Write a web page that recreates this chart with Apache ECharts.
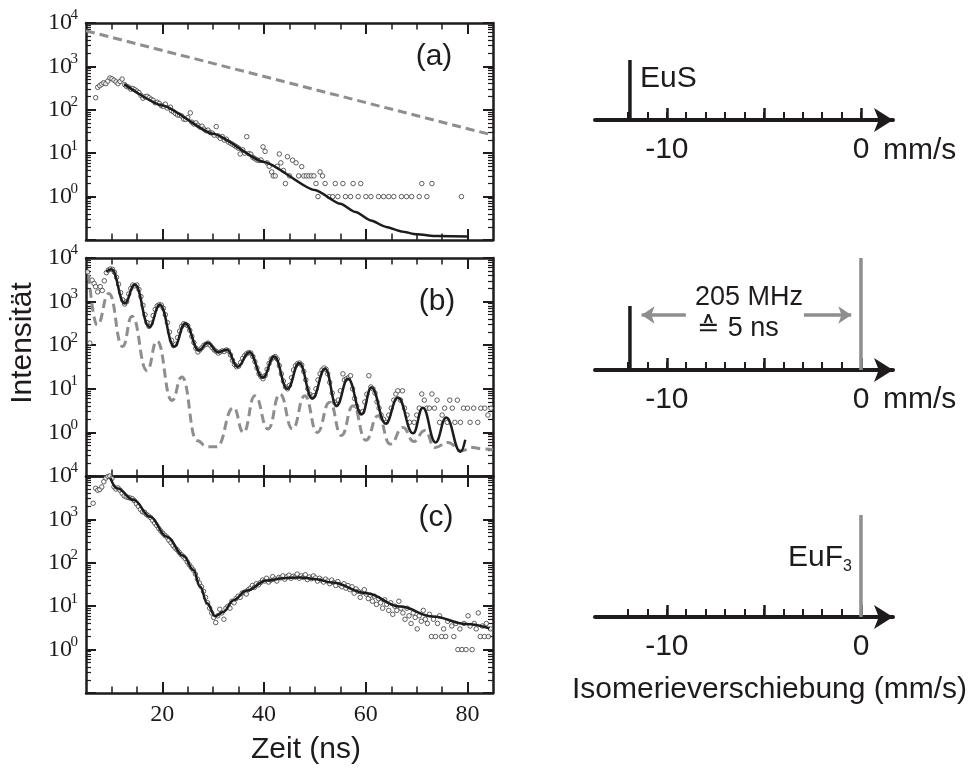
<!DOCTYPE html>
<html><head><meta charset="utf-8">
<script src="https://cdn.jsdelivr.net/npm/echarts@6/dist/echarts.min.js"></script>
<style>html,body{margin:0;padding:0;background:#fff}#c{width:978px;height:769px}</style>
</head><body><div id="c"></div><script>
// ---------------- data ----------------
const X_MIN = 5, X_MAX = 85;
const xMajorTicks = [20, 40, 60, 80];
const xMinorTicks = [10, 15, 25, 30, 35, 45, 50, 55, 65, 70, 75];
const yDecadeExp = [-1, 0, 1, 2, 3, 4];
const yLabelExp = [0, 1, 2, 3, 4];
const yMinorMult = [2, 3, 4, 5, 6, 7, 8, 9];

// panel (a)
const aScatter = [[6.9,190],[7.3,330],[7.7,360],[8.1,390],[8.5,420],[8.9,400],[9.3,460],[9.7,540],[10.1,520],[10.5,480],[10.9,440],[11.3,400],[11.7,450],[12.1,510],
[12.6,380],[13.0,345],[13.4,330],[13.8,300],[14.2,310],[14.6,290],[15.0,270],[15.4,250],[15.8,215],[16.2,185],[16.6,200],[17.0,205],[17.4,190],[17.8,175],[18.2,165],[18.6,145],[19.0,150],[19.4,140],[19.8,125],[20.2,120],[20.6,135],[21.0,110],[21.6,115],[21.8,95],[22.2,90],[22.6,82],[23.0,76],[23.4,75],[23.8,72],[24.2,61],[24.6,60],[25.0,66],[25.5,85],[25.8,52],[26.2,47],[26.6,50],[27.0,44],[27.4,40],[27.8,42],[28.2,36],[28.6,33],[29.0,34],[29.4,30],[29.8,29],[30.2,26],[30.6,41],[31.0,25],[31.4,22],[31.8,24],[32.2,20],[32.6,21],[33.0,18],[33.4,17],[33.8,16],[34.2,15],[34.6,14],[35.0,13],[35.3,9.6],[35.8,12],[36.2,10],[36.6,24],[37.0,9.8],[37.4,9.5],[37.8,8],[38.2,7.5],[38.6,7],[39.0,6.8],[39.4,7],[39.8,14],[40.2,11],[40.6,6],[41.0,5],[41.5,3.7],[41.8,3],[42.2,3],[42.6,5],[43.0,9.6],[43.3,6],[43.8,4],[44.2,2],[44.6,8.3],[45.0,3],[45.6,6.9],[46.3,6],[46.8,3],[47.4,4.9],[47.8,3],[48.3,3],[48.8,3],[49.3,3],[49.8,3],[50.2,2],[50.6,1],[51.0,3.7],[51.5,3],[52.0,2],[52.8,1],[53.5,1],[54.0,2],[54.5,1],[55.5,2],[56.0,1],[57.0,1],[57.5,2],[58.5,1],[59.0,2],[60.0,1],[61.0,1],[62.5,1],[63.5,1],[64.5,1],[65.5,1],[67.0,1],[68.0,1],[69.0,1],[70.5,1],[71.0,2],[72.0,1],[73.0,2],[78.8,1]];
const aFit = [[12.5,390],[20,126],[30,28],[40,6.3],[50,1.41],[55,0.68],[58,0.44],[61,0.28],[64,0.2],[67,0.158],[70,0.135],[74,0.123],[80,0.12]];
const aReference = [[5,6600],[85,26]];

// panel (b)
const bScatter = [[5.3,4800],[5.75,112],[6.2,3100],[6.6,2600],[6.9,2200],[7.3,1670],[7.8,2200],[8.2,1800],[8.6,3000],[9.0,4600],[9.4,5300],[9.8,5600],[10.2,5500],[10.6,4700],[11.0,3600],[11.4,2500],[11.8,1600],[12.2,1100],[12.6,880],[13.0,1000],[13.4,1500],[13.8,2000],[14.2,2400],[14.6,2300],[15.0,2400],[15.4,1900],[15.8,1300],[16.2,820],[16.6,500],[17.0,330],[17.4,270],[17.8,320],[18.2,480],[18.6,660],[19.0,800],[19.4,850],[19.8,830],[20.2,700],[20.6,500],[21.0,330],[21.4,200],[21.8,130],[22.2,98],[22.6,105],[23.0,150],[23.4,210],[23.8,270],[24.2,310],[24.6,300],[25.0,280],[25.4,220],[25.8,160],[26.2,115],[26.6,85],[27.0,70],[27.4,78],[27.8,88],[28.2,100],[28.6,105],[29.0,112],[29.4,100],[29.8,88],[30.2,78],[30.6,72],[31.0,66],[31.4,70],[31.8,74],[32.2,72],[32.6,78],[33.0,74],[33.4,60],[33.8,45],[34.2,36],[34.6,32],[35.0,33],[35.4,40],[35.8,50],[36.2,58],[36.6,64],[37.0,68],[37.4,66],[37.8,55],[38.2,42],[38.6,30],[39.0,22],[39.4,19],[39.8,17],[40.2,20],[40.6,28],[41.0,38],[41.4,48],[41.8,52],[42.2,55],[42.6,48],[43.0,34],[43.4,22],[43.8,15],[44.2,11],[44.6,10],[45.0,12],[45.4,18],[45.8,27],[46.2,34],[46.6,38],[47.0,39],[47.4,35],[47.8,25],[48.2,16],[48.6,10],[49.0,7.5],[49.4,6.5],[49.8,7],[50.2,10],[50.6,16],[51.0,22],[51.4,27],[51.8,30],[52.2,28],[52.5,22],[52.9,14],[53.4,8],[53.8,5],[54.2,4.3],[54.6,5.5],[55.0,9],[55.5,22],[55.8,16],[56.2,17],[56.6,18],[57.0,20],[57.4,10],[57.8,6],[58.2,4],[58.6,3],[59.0,2.8],[59.4,3],[59.8,5],[60.2,7.5],[60.6,20],[61.0,11],[61.4,10],[61.8,8],[62.2,5],[62.6,3.6],[63.0,2.5],[63.5,2],[64.0,1.7],[64.5,2.5],[65.0,3.6],[65.5,5.5],[65.9,7.6],[66.3,9],[66.8,5.5],[67.2,9],[67.6,3.6],[68.1,2.5],[68.6,1.7],[69.5,1.7],[70.0,2.5],[70.5,3.6],[71.0,7.6],[71.5,5.5],[72.0,3.6],[72.5,3.6],[73.0,7.6],[73.5,3.6],[74.0,5.5],[74.5,1.7],[75.0,2.5],[75.5,3.6],[76.0,1.7],[76.5,5.5],[77.0,3.6],[77.5,1.7],[78.0,5.5],[78.6,1.7],[79.2,3.6],[80.0,3.6],[80.5,1.7],[81.2,3.6],[82.0,1.7],[82.6,3.6],[83.4,3.6],[84.0,2.5],[84.6,3.6]];
const bFit = [[9.0,4800],[10.0,5500],[12.6,910],[14.6,2460],[17.45,263],[19.5,850],[22.35,93],[24.5,315],[27.2,76],[28.9,114],[31.0,69],[32.7,79],[34.8,32],[37.1,69],[39.75,18],[42.0,55],[44.6,10],[46.9,39],[49.5,6],[52.0,29],[54.25,4.1],[56.5,17],[59.2,2.6],[61.1,10.7],[63.9,1.6],[66.3,6.3],[69.3,0.95],[71.2,3.7],[73.7,0.59],[75.8,2.2],[78.6,0.36],[79.55,0.68]];
const bSimulation = [[5.55,4100],[7.2,290],[9.5,1540],[12.2,93],[14.05,460],[17.0,26],[18.95,124],[21.9,5.4],[23.85,18.6],[26.8,0.65],[28.8,0.47],[30.7,0.47],[34.0,3.7],[35.95,1.0],[38.2,6.9],[40.8,1.2],[43.1,7.6],[45.6,1.2],[48.0,6.9],[50.45,1.0],[52.9,4.9],[55.2,0.85],[57.5,4.1],[60.0,0.66],[62.4,2.4],[64.8,0.54],[67.3,1.3],[69.4,0.62],[71.6,1.1],[73.6,0.45],[76.1,0.59],[78.8,0.38],[81.0,0.45],[83.0,0.42],[85.0,0.4]];

// panel (c)
const cScatter = [[6.4,2350],[6.9,5200],[7.3,4700],[7.7,4900],[8.1,5600],[8.5,7400],[8.9,9000],[9.3,9800],[9.7,10000],[10.1,8800],[10.5,5600],[10.9,5000],[11.3,5300],[11.7,4700],[12.1,4000],[12.5,3500],[12.9,3300],[13.3,3200],[13.7,3100],[14.1,3000],[14.5,2700],[14.9,2300],[15.3,2000],[15.7,1700],[16.1,1500],[16.5,1450],[16.9,1300],[17.3,1200],[17.7,1100],[18.1,950],[18.5,820],[18.9,720],[19.3,620],[19.7,540],[20.1,480],[20.5,430],[20.9,390],[21.3,330],[21.7,290],[22.1,250],[22.5,220],[22.9,200],[23.3,175],[23.7,155],[24.1,140],[24.5,125],[24.9,105],[25.3,90],[25.7,78],[26.1,68],[26.5,55],[26.9,42],[27.3,34],[27.7,28],[28.1,22],[28.5,16],[28.9,12],[29.3,9],[29.7,7],[30.1,5.5],[30.5,4.2],[30.9,6],[31.3,8.5],[31.7,7],[32.1,5],[32.5,9],[32.9,10],[33.3,9],[33.7,13],[34.1,12],[34.5,15],[34.9,17],[35.3,16],[35.7,20],[36.1,21],[36.5,19],[36.9,24],[37.3,26],[37.7,30],[38.1,27],[38.5,33],[38.9,31],[39.3,35],[39.7,40],[40.1,38],[40.5,44],[40.9,36],[41.3,40],[41.7,48],[42.1,42],[42.5,38],[42.9,46],[43.3,45],[43.7,50],[44.1,42],[44.5,48],[44.9,52],[45.3,44],[45.7,49],[46.1,47],[46.5,55],[46.9,44],[47.3,50],[47.7,46],[48.1,53],[48.5,41],[48.9,47],[49.3,43],[49.7,50],[50.1,45],[50.5,38],[50.9,44],[51.3,40],[51.7,36],[52.1,42],[52.5,38],[52.9,33],[53.3,40],[53.7,35],[54.1,30],[54.5,37],[54.9,31],[55.3,28],[55.7,33],[56.1,26],[56.5,30],[56.9,24],[57.3,28],[57.7,20],[58.1,25],[58.5,22],[58.9,16],[59.3,21],[59.7,24],[60.1,19],[60.5,15],[60.9,18],[61.3,13],[61.7,17],[62.1,11],[62.5,15],[62.9,12],[63.3,9],[63.7,14],[64.1,11],[64.5,8],[64.9,12],[65.3,6.5],[65.7,10],[66.1,8],[66.5,13],[66.9,9],[67.3,7],[67.7,5],[68.1,9],[68.5,6],[68.9,4],[69.3,7],[69.7,5.5],[70.1,3],[70.5,6],[70.9,4.5],[71.3,8],[71.7,5],[72.1,4],[72.5,6.5],[72.9,2],[73.3,5],[73.7,2],[74.1,4],[74.5,6],[74.9,2],[75.3,3],[75.7,2],[76.1,4.5],[76.9,3.5],[77.3,2],[77.7,4],[78.1,1],[78.5,3],[78.9,1],[79.3,4],[79.7,1],[80.1,6],[80.5,3.5],[80.9,1],[81.3,4],[81.7,3],[82.1,7],[82.5,2],[82.9,3.5],[83.3,2],[83.7,4],[84.1,2],[84.5,3]];
const cFit = [[9.8,9000],[11.1,5200],[14.4,2800],[17.6,1150],[20.9,400],[24.2,143],[26.1,68],[27.45,28],[28.8,11.7],[30.4,5.9],[32.0,7.4],[34.0,13.8],[36.6,23],[40.5,39],[43.8,44],[47.1,46],[50.3,42],[53.3,35],[60.1,20],[66.7,9.8],[73.2,5.8],[79.7,3.9],[84.3,3.1]];

// right-hand schematic (isomer shift, mm/s)
const SHIFT_MIN = -13.7, SHIFT_MAX = 1.65;
const shiftMajorTicks = [-10, -5, 0];
const shiftMinorTicks = [-12, -11, -10, -9, -8, -7, -6, -5, -4, -3, -2, -1, 0];
const shiftLabels = [-10, 0];
const EUS_SHIFT = -11.9;
const EUF3_SHIFT = 0.0;

// ---------------- styles ----------------
const INK = '#1f1b1c';
const GRAY = '#8e8e8e';
const SERIF = '"Liberation Serif", "Times New Roman", serif';
const SANS = '"Liberation Sans", Arial, sans-serif';

const grids = [], xAxes = [], yAxes = [], series = [];

function addLeftPanel(top, height, showXLabels, scatter, lines) {
  const g = grids.length;
  grids.push({left: 86, top: top, width: 407, height: height, outerBoundsMode: 'none', containLabel: false});
  const base = {gridIndex: g, type: 'value', min: X_MIN, max: X_MAX, splitLine: {show: false}, axisLabel: {show: false}};
  const lineOn = {show: true, onZero: false, lineStyle: {color: INK, width: 2.5}};
  const lineOff = {show: false, onZero: false};
  const majT = {show: true, inside: true, length: 11, customValues: xMajorTicks, lineStyle: {color: INK, width: 2}};
  const minT = {show: true, inside: true, length: 6.5, customValues: xMinorTicks, lineStyle: {color: INK, width: 1.5}};
  const xMain = xAxes.length;
  xAxes.push(Object.assign({}, base, {position: 'bottom', axisLine: lineOn, axisTick: majT,
    axisLabel: showXLabels ? {show: true, customValues: xMajorTicks, margin: 10, color: INK, fontFamily: SERIF, fontSize: 24} : {show: false}}));
  xAxes.push(Object.assign({}, base, {position: 'bottom', axisLine: lineOff, axisTick: minT}));
  xAxes.push(Object.assign({}, base, {position: 'top', axisLine: lineOn, axisTick: majT}));
  xAxes.push(Object.assign({}, base, {position: 'top', axisLine: lineOff, axisTick: minT}));

  const yMain = yAxes.length;
  yAxes.push({gridIndex: g, type: 'log', logBase: 10, min: 0.1, max: 10000, show: false, splitLine: {show: false}});
  const minorVals = [];
  yDecadeExp.slice(0, -1).forEach(e => yMinorMult.forEach(m => minorVals.push(e + Math.log10(m))));
  const ybase = {gridIndex: g, type: 'value', min: -1, max: 4, splitLine: {show: false}, axisLabel: {show: false}};
  const noTick = {show: false};
  const yMajT = {show: true, inside: true, length: 10, customValues: yDecadeExp, lineStyle: {color: INK, width: 2}};
  const yMinT = {show: true, inside: true, length: 5, customValues: minorVals, lineStyle: {color: INK, width: 1.2}};
  yAxes.push(Object.assign({}, ybase, {position: 'left', axisLine: lineOn, axisTick: yMajT}));
  yAxes.push(Object.assign({}, ybase, {position: 'left', axisLine: lineOff, axisTick: yMinT}));
  yAxes.push(Object.assign({}, ybase, {position: 'right', axisLine: lineOn, axisTick: yMajT}));
  yAxes.push(Object.assign({}, ybase, {position: 'right', axisLine: lineOff, axisTick: yMinT}));
  // decade labels: mantissa "10" and its exponent as superscript
  yAxes.push(Object.assign({}, ybase, {position: 'left', axisLine: lineOff, axisTick: noTick,
    axisLabel: {show: true, customValues: yLabelExp, formatter: () => '10', margin: 14, color: INK,
      fontFamily: SERIF, fontSize: 24, verticalAlign: 'middle', padding: [4, 0, 0, 0]}}));
  yAxes.push(Object.assign({}, ybase, {position: 'left', axisLine: lineOff, axisTick: noTick,
    axisLabel: {show: true, customValues: yLabelExp, formatter: v => String(Math.round(v)), margin: 8, color: INK,
      fontFamily: SERIF, fontSize: 15, verticalAlign: 'bottom', padding: [0, 0, 0, 0]}}));

  series.push({type: 'scatter', xAxisIndex: xMain, yAxisIndex: yMain, data: scatter, symbol: 'circle', symbolSize: 4.5,
    itemStyle: {color: '#ffffff', borderColor: '#3a3a3a', borderWidth: 1}, z: 2, silent: true});
  lines.forEach(l => series.push({type: 'line', xAxisIndex: xMain, yAxisIndex: yMain, data: l.data, symbol: 'none',
    smooth: l.smooth, smoothMonotone: 'x', lineStyle: l.style, z: l.z, silent: true}));
}

addLeftPanel(23, 217, false, aScatter, [
  {data: aReference, smooth: false, style: {color: GRAY, width: 3, type: [9, 5]}, z: 3},
  {data: aFit, smooth: 0.2, style: {color: INK, width: 2.5}, z: 4}
]);
addLeftPanel(258, 218, false, bScatter, [
  {data: bSimulation, smooth: 0.5, style: {color: GRAY, width: 3, type: [9, 5]}, z: 3},
  {data: bFit, smooth: 0.45, style: {color: INK, width: 2.5}, z: 4}
]);
addLeftPanel(476, 217, true, cScatter, [
  {data: cFit, smooth: 0.4, style: {color: INK, width: 2.5}, z: 4}
]);

function addRightPanel(top, height, items) {
  const g = grids.length;
  grids.push({left: 595, top: top, width: 298, height: height, outerBoundsMode: 'none', containLabel: false});
  const base = {gridIndex: g, type: 'value', min: SHIFT_MIN, max: SHIFT_MAX, position: 'bottom', splitLine: {show: false}};
  const xMain = xAxes.length;
  xAxes.push(Object.assign({}, base, {
    axisLine: {show: true, onZero: false, symbol: ['none', 'arrow'], symbolSize: [18, 19], lineStyle: {color: INK, width: 4}},
    axisTick: {show: true, inside: true, length: 12, customValues: shiftMajorTicks, lineStyle: {color: INK, width: 2.5}},
    axisLabel: {show: true, customValues: shiftLabels, margin: 15, color: INK, fontFamily: SANS, fontSize: 30}}));
  xAxes.push(Object.assign({}, base, {axisLine: {show: false, onZero: false},
    axisTick: {show: true, inside: true, length: 8, customValues: shiftMinorTicks, lineStyle: {color: INK, width: 2}},
    axisLabel: {show: false}}));
  const yMain = yAxes.length;
  yAxes.push({gridIndex: g, type: 'value', min: 0, max: 1, show: false, splitLine: {show: false}});
  items.forEach(it => {
    if (it.kind === 'bar') {
      series.push({type: 'line', xAxisIndex: xMain, yAxisIndex: yMain, data: [[it.x, 0], [it.x, it.h]],
        symbol: 'none', lineStyle: {color: it.color, width: 3.5}, z: 3, silent: true});
    } else {
      series.push({type: 'lines', coordinateSystem: 'cartesian2d', xAxisIndex: xMain, yAxisIndex: yMain,
        data: it.segs.map(s => ({coords: s})), symbol: ['none', 'arrow'], symbolSize: [13, 13],
        lineStyle: {color: GRAY, width: 3.5, opacity: 1}, z: 3, silent: true});
    }
  });
}
const ARROW_Y = 0.458;
addRightPanel(40, 80, [{kind: 'bar', x: EUS_SHIFT, h: 0.75, color: INK}]);
addRightPanel(250, 120, [
  {kind: 'bar', x: EUS_SHIFT, h: 0.533, color: INK},
  {kind: 'bar', x: EUF3_SHIFT, h: 0.933, color: GRAY},
  {kind: 'arrows', segs: [[[-9.02, ARROW_Y], [EUS_SHIFT + 0.6, ARROW_Y]], [[-2.94, ARROW_Y], [EUF3_SHIFT - 0.5, ARROW_Y]]]}
]);
addRightPanel(497, 120, [{kind: 'bar', x: EUF3_SHIFT, h: 0.85, color: GRAY}]);

function txt(x, y, text, size, align, extra) {
  return Object.assign({type: 'text', x: x, y: y, silent: true, z: 10,
    style: {text: text, font: size + 'px ' + SANS, fill: INK, textAlign: align, align: align,
      textVerticalAlign: 'middle', verticalAlign: 'middle'}}, extra || {});
}

const option = {
  animation: false,
  backgroundColor: '#ffffff',
  grid: grids, xAxis: xAxes, yAxis: yAxes, series: series,
  graphic: [
    txt(23, 343, 'Intensität', 30, 'center', {rotation: Math.PI / 2}),
    txt(306, 750, 'Zeit (ns)', 30, 'center'),
    txt(434, 57, '(a)', 30, 'center'),
    txt(437, 302, '(b)', 30, 'center'),
    txt(436, 518, '(c)', 30, 'center'),
    txt(640, 79, 'EuS', 30, 'left'),
    txt(883, 151, 'mm/s', 30, 'left'),
    txt(883, 400, 'mm/s', 30, 'left'),
    txt(749, 298, '205 MHz', 27, 'center'),
    txt(738, 329, '≙ 5 ns', 27, 'center'),
    txt(843, 558, 'EuF', 30, 'right'),
    txt(843, 567, '3', 16, 'left'),
    txt(572, 690, 'Isomerieverschiebung (mm/s)', 30, 'left')
  ]
};
const chart = echarts.init(document.getElementById('c'), null, {renderer: 'canvas'});
chart.setOption(option);
</script></body></html>
